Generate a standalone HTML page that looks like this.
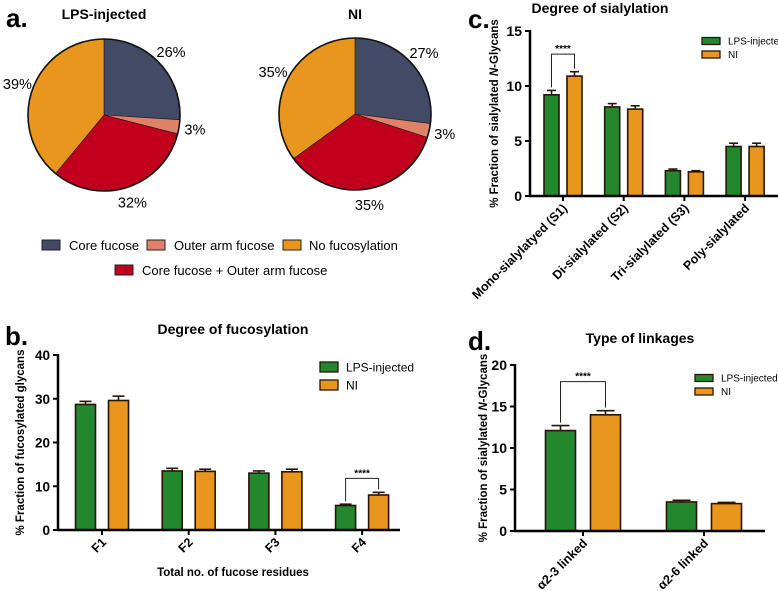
<!DOCTYPE html>
<html><head><meta charset="utf-8"><style>
body{margin:0;background:#fff}
svg{display:block;font-family:"Liberation Sans",Arial,sans-serif}
</style></head><body>
<svg id="fig" width="778" height="591" viewBox="0 0 778 591" xmlns="http://www.w3.org/2000/svg">
<rect width="778" height="591" fill="#fff"/>
<text x="6" y="27" font-size="26" font-weight="bold">a.</text>
<text x="104" y="19" font-size="14" font-weight="bold" text-anchor="middle">LPS-injected</text>
<text x="355" y="19" font-size="14" font-weight="bold" text-anchor="middle">NI</text>
<g id="legA" font-size="13">
<rect x="42" y="240" width="18" height="10" fill="#434a66" stroke="#222"/><text x="69" y="250">Core  fucose</text>
<rect x="147" y="240" width="18" height="10" fill="#e0826a" stroke="#222"/><text x="174" y="250">Outer arm fucose</text>
<rect x="283" y="240" width="18" height="10" fill="#e8961e" stroke="#222"/><text x="309" y="250">No fucosylation</text>
<rect x="115" y="265" width="18" height="10" fill="#c0001c" stroke="#222"/><text x="142" y="275">Core fucose + Outer arm fucose</text>
</g>
<text x="5" y="345" font-size="26" font-weight="bold">b.</text>
<text x="233" y="334" font-size="14" font-weight="bold" text-anchor="middle">Degree of fucosylation</text>
<text x="468" y="28" font-size="26" font-weight="bold">c.</text>
<text x="600" y="13" font-size="14" font-weight="bold" text-anchor="middle">Degree of sialylation</text>
<text x="468" y="350" font-size="26" font-weight="bold">d.</text>
<text x="640" y="343" font-size="14" font-weight="bold" text-anchor="middle">Type of linkages</text>
</svg>
<script>
const pieColors=["#434a66","#e0826a","#c0001c","#e8961e"];
const pieLpsValues=[26,3,32,39];
const pieNiValues=[27,3,35,35];
const fucCategories=["F1","F2","F3","F4"];
const fucLps=[28.7,13.5,13.0,5.6];
const fucLpsErr=[0.7,0.6,0.5,0.3];
const fucNi=[29.6,13.4,13.3,8.0];
const fucNiErr=[1.0,0.5,0.6,0.6];
const fucTicks=[0,10,20,30,40];
const sialCategories=["Mono-sialylatyed (S1)","Di-sialylated (S2)","Tri-sialylated (S3)","Poly-sialylated"];
const sialLps=[9.2,8.1,2.3,4.5];
const sialLpsErr=[0.4,0.3,0.15,0.3];
const sialNi=[10.9,7.9,2.2,4.5];
const sialNiErr=[0.4,0.3,0.1,0.3];
const sialTicks=[0,5,10,15];
const linkCategories=["α2-3 linked","α2-6 linked"];
const linkLps=[12.1,3.5];
const linkLpsErr=[0.6,0.2];
const linkNi=[14.0,3.3];
const linkNiErr=[0.5,0.15];
const linkTicks=[0,5,10,15,20];

const NS="http://www.w3.org/2000/svg";
const svg=document.getElementById('fig');
function mk(tag,attrs,parent){const e=document.createElementNS(NS,tag);for(const k in attrs)e.setAttribute(k,attrs[k]);(parent||svg).appendChild(e);return e;}

function pie(cx,cy,r,vals,labelR,name){
  const g=mk('g',{});
  
  
  const tot=vals.reduce((a,b)=>a+b,0);let a0=-Math.PI/2;
  vals.forEach((v,i)=>{
    const a1=a0+v/tot*2*Math.PI;
    const x0=cx+r*Math.cos(a0),y0=cy+r*Math.sin(a0),x1=cx+r*Math.cos(a1),y1=cy+r*Math.sin(a1);
    const p=mk('path',{d:`M${cx},${cy}L${x0},${y0}A${r},${r} 0 ${a1-a0>Math.PI?1:0} 1 ${x1},${y1}Z`,fill:pieColors[i],stroke:'#1a1a1a','stroke-width':0.6},g);
    
    
    const am=(a0+a1)/2;
    const t=mk('text',{x:cx+labelR*Math.cos(am),y:cy+labelR*Math.sin(am)+5,'font-size':14.5,'text-anchor':'middle'},g);
    t.textContent=v+'%';
    
    
    a0=a1;
  });
  mk('circle',{cx,cy,r,fill:'none',stroke:'#111','stroke-width':1.6},g);
}
pie(104,115,76,pieLpsValues,92,'pie-lps-injected');
pie(355,114,76,pieNiValues,92,'pie-ni');

function bars(o){
  const g=mk('g',{});
  
  
  const y=v=>o.y0-(v/o.max)*(o.y0-o.yTop);
  o.ticks.forEach(t=>{
    mk('line',{x1:o.x0-5,x2:o.x0,y1:y(t),y2:y(t),stroke:'#000','stroke-width':2},g);
    const tx=mk('text',{x:o.x0-8,y:y(t)+5,'font-size':o.tf,'font-weight':'bold','text-anchor':'end'},g);
    tx.textContent=t;
    
    
  });
  o.cats.forEach((c,i)=>{
    const cx=o.c0+i*o.step;
    [[o.a,o.ae,'#23872e',-1],[o.b,o.be,'#e8961e',1]].forEach(([v,e,col,s])=>{
      const bx=cx+s*(o.gap/2)+(s<0?-o.bw:0);
      const r=mk('rect',{x:bx,y:y(v[i]),width:o.bw,height:o.y0-y(v[i]),fill:col,stroke:'#2a1408','stroke-width':1.6},g);
      
      
      const mx=bx+o.bw/2;
      mk('line',{x1:mx,x2:mx,y1:y(v[i]),y2:y(v[i]+e[i]),stroke:'#2a1408','stroke-width':1.6},g);
      mk('line',{x1:mx-o.bw*0.3,x2:mx+o.bw*0.3,y1:y(v[i]+e[i]),y2:y(v[i]+e[i]),stroke:'#2a1408','stroke-width':1.6},g);
    });
    mk('line',{x1:cx,x2:cx,y1:o.y0,y2:o.y0+5,stroke:'#000','stroke-width':2},g);
    const t=mk('text',{transform:`translate(${cx+5},${o.y0+13}) rotate(-45)`,'font-size':o.lf,'font-weight':'bold','text-anchor':'end'},g);
    t.textContent=c;
    
    
    if(o.sig===i){
      const lx=cx-o.gap/2-o.bw/2,rx=cx+o.gap/2+o.bw/2,by=y(o.sigY);
      mk('path',{d:`M${lx},${y(o.a[i]+o.ae[i])-3}V${by}H${rx}V${y(o.b[i]+o.be[i])-3}`,fill:'none',stroke:'#222','stroke-width':1},g);
      const st=mk('text',{x:(lx+rx)/2,y:by-2,'font-size':10,'font-weight':'bold','text-anchor':'middle'},g);
      st.textContent='****';
      
      
    }
  });
  mk('line',{x1:o.x0,x2:o.x0,y1:o.yTop-1,y2:o.y0+1,stroke:'#000','stroke-width':2.5},g);
  mk('line',{x1:o.x0-1,x2:o.xEnd,y1:o.y0,y2:o.y0,stroke:'#000','stroke-width':2.5},g);
  const yl=mk('text',{transform:`translate(${o.ylx},${(o.y0+o.yTop)/2}) rotate(-90)`,'font-size':o.yf,'font-weight':'bold','text-anchor':'middle'},g);
  yl.innerHTML=o.ylab;
  
  
  [['LPS-injected','#23872e'],['NI','#e8961e']].forEach(([n,col],k)=>{
    const r=mk('rect',{x:o.lx,y:o.ly+k*o.ld-o.lh/2,width:18,height:o.lh,fill:col,stroke:'#2a1408','stroke-width':1.3},g);
    
    
    const t=mk('text',{x:o.lx+26,y:o.ly+k*o.ld+o.lfs*0.36,'font-size':o.lfs},g);
    t.textContent=n;
    
    
  });
}
bars({name:'chart-fucosylation',cats:fucCategories,a:fucLps,ae:fucLpsErr,b:fucNi,be:fucNiErr,ticks:fucTicks,max:40,
  x0:58,xEnd:400,y0:530,yTop:355,c0:102,step:86.7,bw:20,gap:13,tf:13.5,lf:12.5,sig:3,sigY:11.8,
  ylx:24,yf:11.5,ylab:'% Fraction of fucosylated glycans',lx:320,ly:367,ld:18,lh:10,lfs:12});
bars({name:'chart-sialylation',cats:sialCategories,a:sialLps,ae:sialLpsErr,b:sialNi,be:sialNiErr,ticks:sialTicks,max:15,
  x0:530,xEnd:778,y0:196,yTop:31,c0:563,step:60.7,bw:15,gap:8,tf:14,lf:12.5,sig:0,sigY:12.9,
  ylx:498,yf:11.5,ylab:'% Fraction of sialylated <tspan font-style="italic">N</tspan>-Glycans',lx:702,ly:41,ld:13.5,lh:7,lfs:10});
bars({name:'chart-linkages',cats:linkCategories,a:linkLps,ae:linkLpsErr,b:linkNi,be:linkNiErr,ticks:linkTicks,max:20,
  x0:515,xEnd:765,y0:531,yTop:365,c0:583,step:121,bw:30,gap:15,tf:14,lf:12.5,sig:0,sigY:18,
  ylx:487,yf:11.5,ylab:'% Fraction of sialylated <tspan font-style="italic">N</tspan>-Glycans',lx:695,ly:378,ld:13.5,lh:7,lfs:10});
const xt=mk('text',{x:233,y:576,'font-size':11.5,'font-weight':'bold','text-anchor':'middle'});
xt.textContent='Total no. of fucose residues';


</script>
</body></html>
